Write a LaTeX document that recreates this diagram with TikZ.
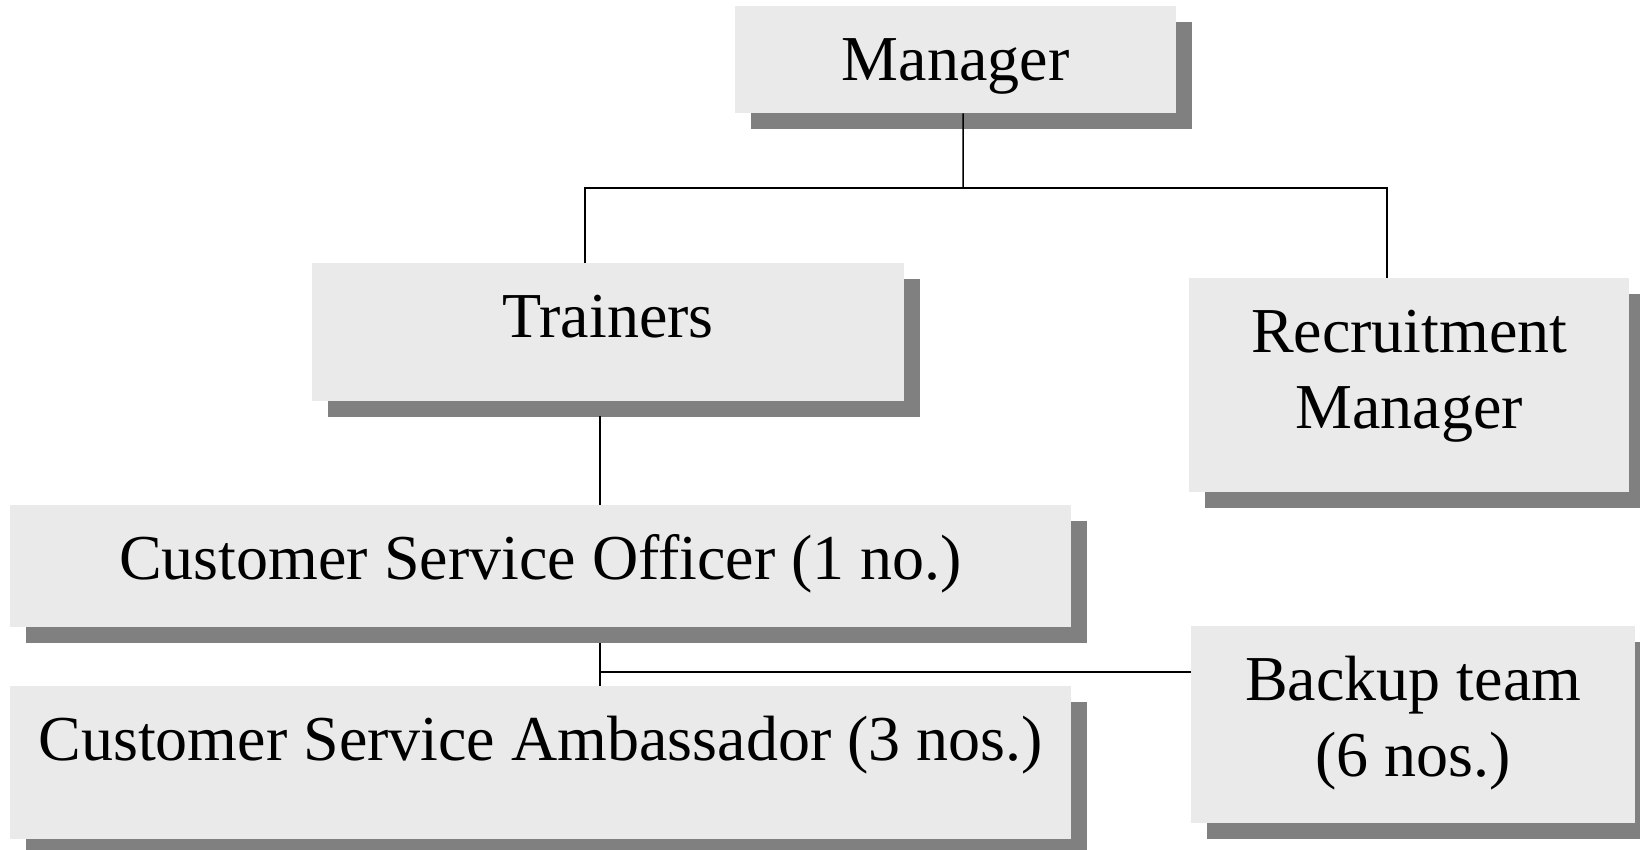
\documentclass[tikz,border=0pt]{standalone}
\usepackage{fontspec}
\setmainfont{Liberation Serif}
\usepackage{tikz}
\usetikzlibrary{shadows}

\definecolor{boxgray}{HTML}{EAEAEA}
\definecolor{shadegray}{HTML}{808080}
\newcommand\boxfont{\fontsize{64}{76}\selectfont}

\tikzset{
  orgbox/.style={fill=boxgray, draw=none, inner sep=0pt, anchor=north west,
    align=center, font=\boxfont, text height=74pt,
    drop shadow={shadow xshift=16pt, shadow yshift=-16pt, fill=shadegray, opacity=1}},
  twoline/.style={text height=150pt},
  link/.style={draw=black, line width=1.5pt}
}

\begin{document}
\begin{tikzpicture}[x=1pt, y=-1pt]
    \useasboundingbox (0,0) rectangle (1640,849);

    \node[orgbox, minimum width=441pt, text depth=33pt] (mgr) at (735,6) {Manager};
    \node[orgbox, minimum width=592pt, text depth=64pt] (trn) at (312,263) {Trainers};
    \node[orgbox, twoline, minimum width=440pt, text depth=64pt] (rec) at (1189,278) {Recruitment\\Manager};
    \node[orgbox, minimum width=1061pt, text depth=48pt] (cso) at (10,505) {Customer Service Officer (1 no.)};
    \node[orgbox, minimum width=1061pt, text depth=79pt] (csa) at (10,686) {Customer Service Ambassador (3 nos.)};
    \node[orgbox, twoline, minimum width=444pt, text depth=47pt] (bak) at (1191,626) {Backup team\\(6 nos.)};

    \coordinate (hub) at (963,188);
    \coordinate (tee) at (600,672);

    \draw[link] ([xshift=7.5pt]mgr.south) -- (hub);
    \draw[link] ([xshift=-23pt]trn.north) |- (hub) -| ([xshift=-22pt]rec.north);
    \draw[link] ([xshift=-8pt, yshift=-15pt]trn.south) -- ([xshift=59.5pt]cso.north);
    \draw[link] ([xshift=59.5pt, yshift=-16pt]cso.south) -- ([xshift=59.5pt]csa.north);
    \draw[link] (tee) -- (tee -| bak.west);
\end{tikzpicture}
\end{document}
